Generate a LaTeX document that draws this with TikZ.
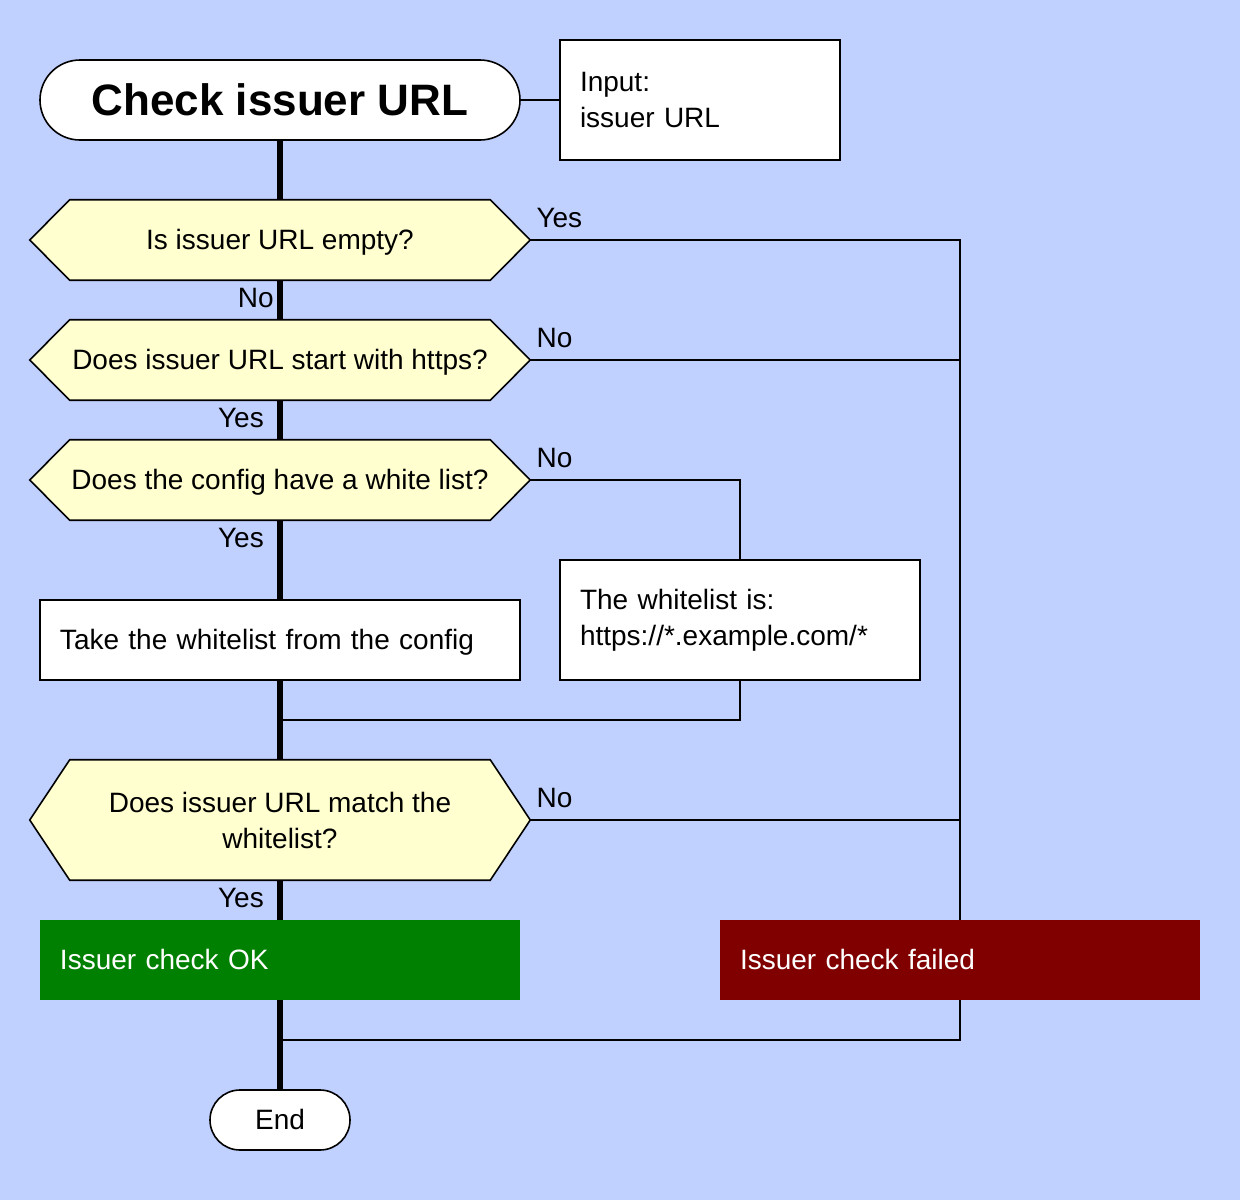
\documentclass[tikz,border=0pt]{standalone}
\usepackage{fontspec}
\setmainfont{Liberation Sans}
\usetikzlibrary{backgrounds,calc}
\definecolor{bgblue}{RGB}{192,208,255}
\definecolor{hexfill}{RGB}{255,255,208}
\definecolor{okgreen}{RGB}{0,128,0}
\definecolor{failred}{RGB}{128,0,0}
\newcommand{\hexpoly}[1]{%
  \filldraw[hexborder] (#1.west) -- ($(#1.north west)+(40,0)$) -- ($(#1.north east)+(-40,0)$) -- (#1.east) -- ($(#1.south east)+(-40,0)$) -- ($(#1.south west)+(40,0)$) -- cycle;}
\begin{document}
\begin{tikzpicture}[x=0.75pt,y=-0.75pt,
  every node/.style={font=\fontsize{21}{27}\selectfont, inner sep=0pt},
  oneline/.style={text height=19pt, text depth=4.45pt},
  term/.style={draw, fill=white, line width=1.2pt},
  infobox/.style={draw, fill=white, line width=1.5pt, align=left, inner xsep=15pt},
  hexnode/.style={minimum width=375pt, align=center},
  hexborder/.style={draw=black, fill=hexfill, line width=1.2pt, line join=miter},
  colbox/.style={text=white, align=left, minimum height=60pt, text width=330pt, inner xsep=15pt, oneline},
  mainline/.style={line width=4pt},
  thinline/.style={line width=1.5pt},
  lbl/.style={}]
\node[term, rounded corners=30pt, minimum width=360pt, minimum height=60pt,
      text height=29.9pt, text depth=7pt,
      font=\fontsize{33}{40}\selectfont\bfseries] (start) at (280,100) {Check issuer URL};
\node[infobox, minimum height=90pt, text width=180pt] (input) at (700,100) {Input:\\issuer URL};
\node[hexnode, oneline, minimum height=60pt] (q1) at (280,240) {Is issuer URL empty?};
\node[hexnode, oneline, minimum height=60pt] (q2) at (280,360) {Does issuer URL start with https?};
\node[hexnode, oneline, minimum height=60pt] (q3) at (280,480) {Does the config have a white list?};
\node[infobox, oneline, minimum height=60pt, text width=330pt] (take) at (280,640) {Take the whitelist from the config};
\node[infobox, minimum height=90pt, text width=240pt] (wl) at (740,620) {The whitelist is:\\https://*.example.com/*};
\node[hexnode, minimum height=90pt] (q4) at (280,820) {Does issuer URL match the\\whitelist?};
\node[colbox, fill=okgreen] (ok) at (280,960) {Issuer check OK};
\node[colbox, fill=failred] (fail) at (960,960) {Issuer check failed};
\node[term, oneline, rounded corners=22.5pt, minimum width=105pt, minimum height=45pt] (end) at (280,1120) {End};
\coordinate (j1) at (280,720);
\coordinate (j2) at (280,1040);

\node[lbl, anchor=west] (l1) at ($(q1.east)+(6,-22)$) {Yes};
\node[lbl, anchor=east] (l2) at ($(q1.south)+(-6,18)$) {No};
\node[lbl, anchor=west] (l3) at ($(q2.east)+(6,-22)$) {No};
\node[lbl, anchor=east] (l4) at ($(q2.south)+(-16,18)$) {Yes};
\node[lbl, anchor=west] (l5) at ($(q3.east)+(6,-22)$) {No};
\node[lbl, anchor=east] (l6) at ($(q3.south)+(-16,18)$) {Yes};
\node[lbl, anchor=west] (l7) at ($(q4.east)+(6,-22)$) {No};
\node[lbl, anchor=east] (l8) at ($(q4.south)+(-16,18)$) {Yes};

\begin{scope}[on background layer]
  \fill[bgblue] (0,0) rectangle (1240,1200);
  \hexpoly{q1}
  \hexpoly{q2}
  \hexpoly{q3}
  \hexpoly{q4}
\end{scope}

\draw[line width=1.2pt] (start.east) -- (input.west);
\draw[mainline] (start.south) -- (q1.north);
\draw[mainline] (q1.south) -- (q2.north);
\draw[mainline] (q2.south) -- (q3.north);
\draw[mainline] (q3.south) -- (take.north);
\draw[mainline] (take.south) -- (q4.north);
\draw[mainline] (q4.south) -- (ok.north);
\draw[mainline] (ok.south) -- (end.north);

\draw[thinline] (q1.east) -| (fail.north);
\draw[thinline] (q2.east) -- (q2.east -| fail.north);
\draw[thinline] (q3.east) -| (wl.north);
\draw[thinline] (wl.south) |- (j1);
\draw[thinline] (q4.east) -- (q4.east -| fail.north);
\draw[thinline] (fail.south) |- (j2);
\end{tikzpicture}
\end{document}
